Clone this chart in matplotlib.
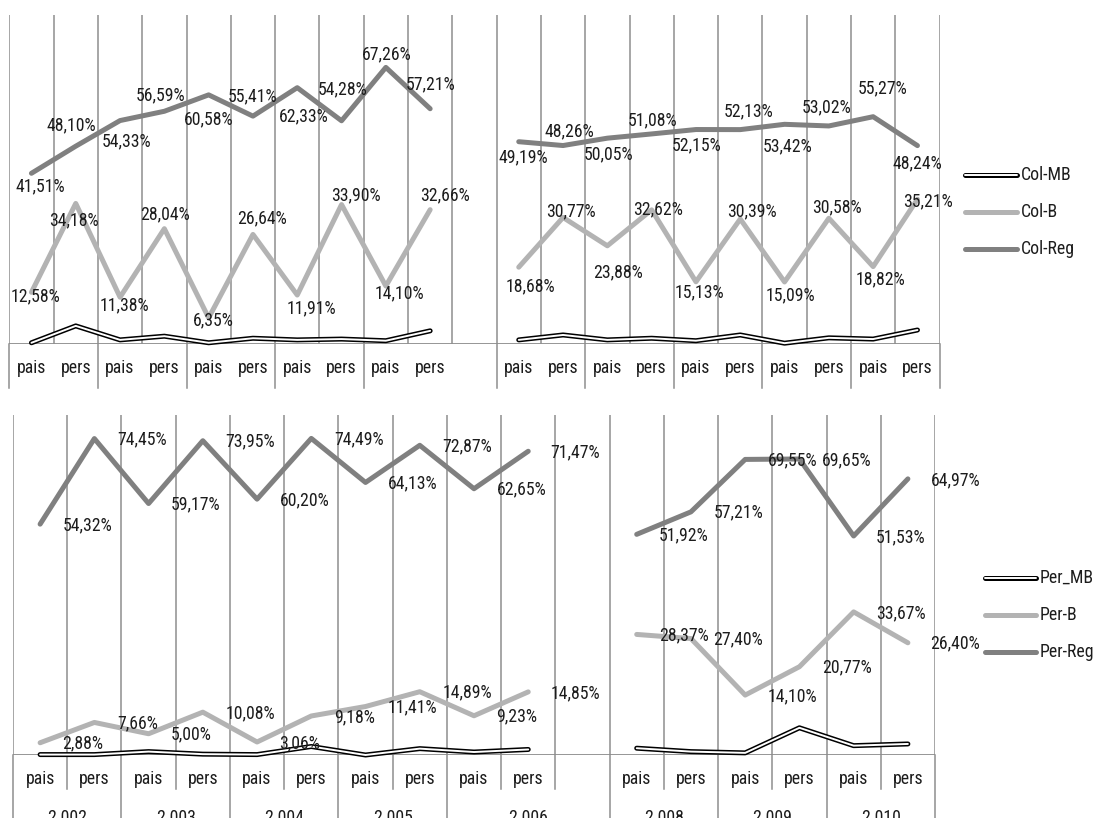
import matplotlib
matplotlib.use('Agg')
import matplotlib.pyplot as plt
from matplotlib import font_manager
from matplotlib.lines import Line2D

# Datos: dos graficos de lineas (Col arriba, Per abajo), porcentajes por pais/pers
cats_col = ['pais', 'pers'] * 5
col_mb_1 = [0.3, 4.4, 1.0, 1.9, 0.3, 1.4, 1.0, 1.2, 0.8, 3.2]
col_b_1 = [12.58, 34.18, 11.38, 28.04, 6.35, 26.64, 11.91, 33.90, 14.10, 32.66]
col_reg_1 = [41.51, 48.10, 54.33, 56.59, 60.58, 55.41, 62.33, 54.28, 67.26, 57.21]
col_mb_2 = [1.0, 2.2, 1.0, 1.4, 0.8, 2.2, 0.2, 1.5, 1.2, 3.4]
col_b_2 = [18.68, 30.77, 23.88, 32.62, 15.13, 30.39, 15.09, 30.58, 18.82, 35.21]
col_reg_2 = [49.19, 48.26, 50.05, 51.08, 52.15, 52.13, 53.42, 53.02, 55.27, 48.24]

cats_per_1 = ['pais', 'pers'] * 5
cats_per_2 = ['pais', 'pers'] * 3
per_mb_1 = [0.1, 0.1, 0.8, 0.2, 0.1, 2.0, 0.0, 1.5, 0.7, 1.3]
per_b_1 = [2.88, 7.66, 5.00, 10.08, 3.06, 9.18, 11.41, 14.89, 9.23, 14.85]
per_reg_1 = [54.32, 74.45, 59.17, 73.95, 60.20, 74.49, 64.13, 72.87, 62.65, 71.47]
per_mb_2 = [1.6, 0.8, 0.5, 6.4, 2.2, 2.6]
per_b_2 = [28.37, 27.40, 14.10, 20.77, 33.67, 26.40]
per_reg_2 = [51.92, 57.21, 69.55, 69.65, 51.53, 64.97]
anios_per = ['2.002', '2.003', '2.004', '2.005', '2.006', '2.008', '2.009', '2.010']

# desplazamientos de las etiquetas del grafico de arriba (px: derecha, abajo)
off_reg_1 = [(9, 13), (-4, -21), (6, 21), (-4, -16), (0, 24), (0, -20), (6, 29), (1, -31), (1, -13), (0, -24)]
off_b_1 = [(4, 4), (-2, 17), (4, 8), (1, -14), (5, 2), (9, -16), (14, 13), (14, -9), (14, 7), (15, -14)]
off_reg_2 = [(5, 16), (6, -14), (1, 16), (1, -14), (1, 16), (8, -18), (3, 22), (-2, -19), (9, -28), (0, 18)]
off_b_2 = [(12, 19), (8, -6), (11, 27), (6, 0), (3, 11), (12, -8), (6, 13), (8, -11), (7, 13), (11, 2)]

W, H = 1098, 818
GRIS = '#8e8e8e'
C_B = '#b3b3b3'
C_REG = '#808080'
TXT = '#1c1c1c'

# fuente estrecha si existe, si no Liberation Sans
nombres = {f.name for f in font_manager.fontManager.ttflist}
FAM, FS = 'Liberation Sans', 11
for fam in ['Liberation Sans Narrow', 'Arial Narrow', 'Roboto Condensed', 'Open Sans Condensed']:
    if fam in nombres:
        FAM, FS = fam, 12.8
        break
plt.rcParams['font.family'] = [FAM, 'DejaVu Sans']

fig = plt.figure(figsize=(W / 100, H / 100), dpi=100)


def panel(l, t, r, b, n):
    ax = fig.add_axes([l / W, 1 - b / H, (r - l) / W, (b - t) / H])
    ax.set_xlim(0, n)
    ax.set_ylim(0, 80)
    ax.set_axis_off()
    for k in range(n + 1):
        ax.axvline(k, color=GRIS, lw=1.1, zorder=1)
    ax.axhline(0, color=GRIS, lw=1.3, zorder=1)
    return ax, b - t


def serie(ax, xs, ys, tipo):
    if tipo == 'mb':
        ax.plot(xs, ys, color='black', lw=3.6, solid_capstyle='round',
                solid_joinstyle='round', clip_on=False, zorder=3)
        ax.plot(xs, ys, color='white', lw=1.4, solid_capstyle='round',
                solid_joinstyle='round', clip_on=False, zorder=3.1)
    else:
        c = C_B if tipo == 'b' else C_REG
        ax.plot(xs, ys, color=c, lw=3.6, solid_capstyle='round',
                solid_joinstyle='round', clip_on=False, zorder=4)


def pct(v):
    return ('%.2f%%' % v).replace('.', ',')


def etiqueta(ax, x, v, dx, dy, ha='center'):
    ax.annotate(pct(v), xy=(x, v), xytext=(dx, -dy), textcoords='offset pixels',
                ha=ha, va='center', fontsize=FS, color=TXT, zorder=6,
                annotation_clip=False)


def separador(ax, k, largo, alto):
    ax.add_line(Line2D([k, k], [0, -largo / alto], color=GRIS, lw=1.1,
                       transform=ax.get_xaxis_transform(), clip_on=False))


def cat_texto(ax, x, txt, baja):
    ax.annotate(txt, xy=(x, 0), xycoords=('data', 'axes fraction'),
                xytext=(0, -baja), textcoords='offset pixels', ha='center',
                va='center', fontsize=FS, color=TXT, annotation_clip=False)


# ---- grafico superior (Col) ----
ax1, alto1 = panel(9.3, 15, 939.6, 344, 21)
x1 = [i + 0.5 for i in range(10)]
x2 = [i + 11.5 for i in range(10)]
for xs, mb, b, reg, ob, oreg in [(x1, col_mb_1, col_b_1, col_reg_1, off_b_1, off_reg_1),
                                 (x2, col_mb_2, col_b_2, col_reg_2, off_b_2, off_reg_2)]:
    serie(ax1, xs, mb, 'mb')
    serie(ax1, xs, b, 'b')
    serie(ax1, xs, reg, 'reg')
    for x, v, (dx, dy) in zip(xs, b, ob):
        etiqueta(ax1, x, v, dx, dy)
    for x, v, (dx, dy) in zip(xs, reg, oreg):
        etiqueta(ax1, x, v, dx, dy)
for x, txt in zip(x1 + x2, cats_col + cats_col):
    cat_texto(ax1, x, txt, 24)
for k in [0, 2, 4, 6, 8, 11, 13, 15, 17, 19, 21]:
    separador(ax1, k, 44, alto1)

# ---- grafico inferior (Per) ----
ax2, alto2 = panel(13, 415, 935, 755, 17)
x3 = [i + 0.5 for i in range(10)]
x4 = [i + 11.5 for i in range(6)]
for xs, mb, b, reg in [(x3, per_mb_1, per_b_1, per_reg_1),
                       (x4, per_mb_2, per_b_2, per_reg_2)]:
    serie(ax2, xs, mb, 'mb')
    serie(ax2, xs, b, 'b')
    serie(ax2, xs, reg, 'reg')
    for x, v in zip(xs, b):
        etiqueta(ax2, x, v, 22.5, 1, ha='left')
    for x, v in zip(xs, reg):
        etiqueta(ax2, x, v, 22.5, 1, ha='left')
for x, txt in zip(x3 + x4, cats_per_1 + cats_per_2):
    cat_texto(ax2, x, txt, 23.5)
for k in [0, 2, 4, 6, 8, 11, 13, 15, 17]:
    separador(ax2, k, 70, alto2)
for k in [1, 3, 5, 7, 9, 10, 12, 14, 16]:
    separador(ax2, k, 34, alto2)
# fila de anios (queda cortada por el borde inferior)
for x, txt in zip([1, 3, 5, 7, 9.5, 12, 14, 16], anios_per):
    ax2.annotate(txt, xy=(x, 0), xycoords=('data', 'axes fraction'),
                 xytext=(0, -54), textcoords='offset pixels', ha='center',
                 va='top', fontsize=FS, color=TXT, annotation_clip=False)

# ---- leyendas ----
lg = fig.add_axes([0, 0, 1, 1])
lg.set_xlim(0, W)
lg.set_ylim(H, 0)
lg.set_axis_off()
lg.patch.set_alpha(0)


def leyenda(x0, x1_, ys, nombres_ley):
    for y, nom, tipo in zip(ys, nombres_ley, ['mb', 'b', 'reg']):
        if tipo == 'mb':
            lg.plot([x0, x1_], [y, y], color='black', lw=3.6, solid_capstyle='round')
            lg.plot([x0, x1_], [y, y], color='white', lw=1.4, solid_capstyle='round')
        else:
            lg.plot([x0, x1_], [y, y], color=C_B if tipo == 'b' else C_REG,
                    lw=3.6, solid_capstyle='round')
        lg.text(x1_ + 4, y, nom, ha='left', va='center', fontsize=FS, color=TXT)


leyenda(965, 1017, [175, 212, 249], ['Col-MB', 'Col-B', 'Col-Reg'])
leyenda(985, 1036, [578, 615, 652], ['Per_MB', 'Per-B', 'Per-Reg'])

fig.savefig('out.png', dpi=100)
